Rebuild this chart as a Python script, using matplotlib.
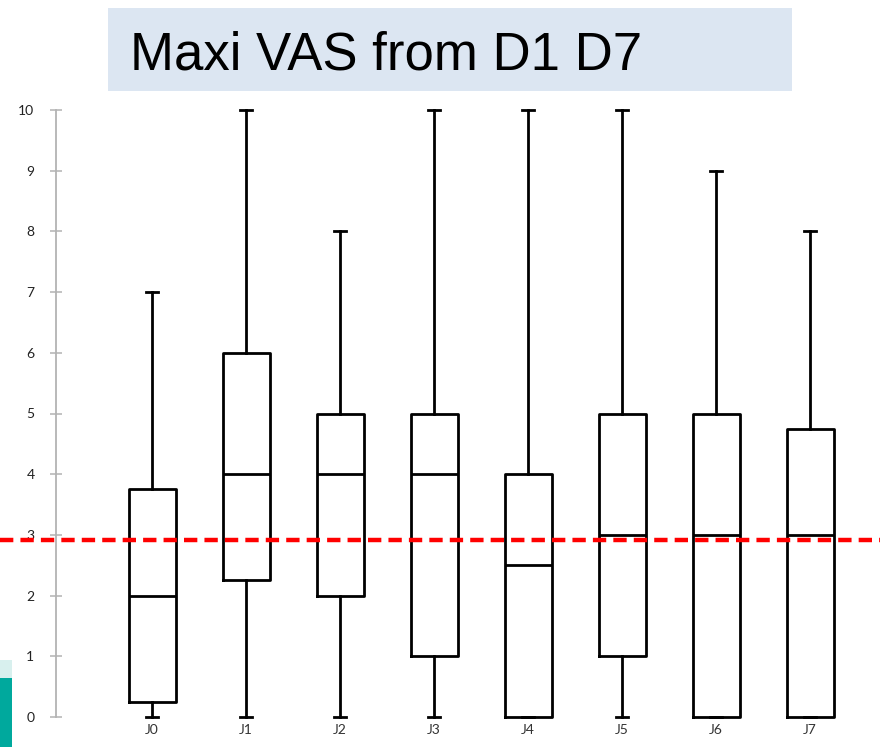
import matplotlib
matplotlib.use("Agg")
import matplotlib.pyplot as plt
from matplotlib.patches import Rectangle

# box plot summaries (VAS 0-10)
days = ["J0", "J1", "J2", "J3", "J4", "J5", "J6", "J7"]
whisker_low = [0, 0, 0, 0, 0, 0, 0, 0]
q1 = [0.25, 2.25, 2, 1, 0, 1, 0, 0]
median = [2, 4, 4, 4, 2.5, 3, 3, 3]
q3 = [3.75, 6, 5, 5, 4, 5, 5, 4.75]
whisker_high = [7, 10, 8, 10, 10, 10, 9, 8]
yticks = list(range(0, 11))
threshold = 2.92

fig = plt.figure(figsize=(8.8, 7.47), dpi=100)
ax = fig.add_axes([56 / 880, 30 / 747, 824 / 880, 607 / 747])
ax.patch.set_visible(False)

stats = []
for i, d in enumerate(days):
    stats.append({"label": d, "whislo": whisker_low[i], "q1": q1[i],
                  "med": median[i], "q3": q3[i], "whishi": whisker_high[i],
                  "fliers": []})

lw = 2.0
bp = ax.bxp(stats, positions=range(len(days)), widths=0.5, capwidths=0.13,
            showfliers=False, patch_artist=False,
            boxprops=dict(color="black", linewidth=lw),
            medianprops=dict(color="black", linewidth=lw),
            whiskerprops=dict(color="black", linewidth=lw),
            capprops=dict(color="black", linewidth=lw))
for key in ("boxes", "medians", "whiskers", "caps"):
    for art in bp[key]:
        art.set_clip_on(False)

# red dashed reference line across the full width
ax.axhline(threshold, xmin=-56 / 824, xmax=1.0, color="#ff0000",
           linewidth=3.2, linestyle=(0, (3, 1.6)), clip_on=False, zorder=5)

ax.set_xlim(-96 / 94, -96 / 94 + 824 / 94)
ax.set_ylim(0, 10)
ax.set_yticks(yticks)

for s in ("top", "right", "bottom"):
    ax.spines[s].set_visible(False)
ax.spines["left"].set_color("#b3b3b3")
ax.spines["left"].set_linewidth(1.3)

ax.tick_params(axis="y", direction="inout", length=9, width=1.1,
               color="#b3b3b3", pad=11, labelsize=10, labelcolor="#222222")
ax.tick_params(axis="x", length=0, pad=5, labelsize=10, labelcolor="#333333")
for lab in ax.get_xticklabels() + ax.get_yticklabels():
    lab.set_fontfamily("Lato")

# title banner
fig.patches.append(Rectangle((108 / 880, 1 - 91 / 747), 684 / 880, 83 / 747,
                             transform=fig.transFigure, facecolor="#dce6f2",
                             edgecolor="none", zorder=0))
fig.text(130 / 880, 1 - 69 / 747, "Maxi VAS from D1 D7", fontsize=38,
         fontfamily="Liberation Sans", va="baseline", ha="left", color="black")

# teal slide decoration at bottom left
fig.patches.append(Rectangle((0, 0), 12 / 880, 69 / 747, transform=fig.transFigure,
                             facecolor="#00a99d", edgecolor="none"))
fig.patches.append(Rectangle((0, 69 / 747), 12 / 880, 18 / 747, transform=fig.transFigure,
                             facecolor="#d8f0ee", edgecolor="none"))

fig.savefig("out.png", dpi=100)
